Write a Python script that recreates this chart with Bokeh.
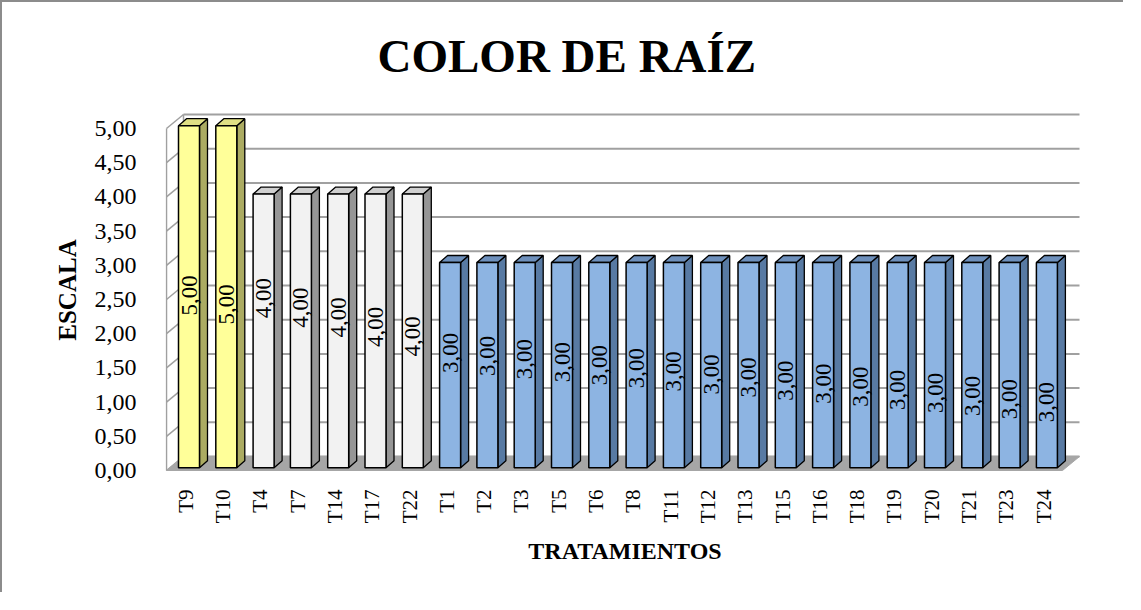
import math
from bokeh.plotting import figure
from bokeh.models import FixedTicker, CustomJSTickFormatter
from bokeh.core.properties import value
from bokeh.embed import file_html
from bokeh.resources import INLINE

# ---------------- data ----------------
categories = ["T9", "T10", "T4", "T7", "T14", "T17", "T22", "T1", "T2", "T3", "T5", "T6",
              "T8", "T11", "T12", "T13", "T15", "T16", "T18", "T19", "T20", "T21", "T23", "T24"]
values = [5.00, 5.00, 4.00, 4.00, 4.00, 4.00, 4.00, 3.00, 3.00, 3.00, 3.00, 3.00,
          3.00, 3.00, 3.00, 3.00, 3.00, 3.00, 3.00, 3.00, 3.00, 3.00, 3.00, 3.00]
y_ticks = [0.0, 0.5, 1.0, 1.5, 2.0, 2.5, 3.0, 3.5, 4.0, 4.5, 5.0]
title_text = "COLOR DE RAÍZ"
y_title = "ESCALA"
x_title = "TRATAMIENTOS"

# colours by value group (front, side, top)
palette = {
    5.0: ("#FFFF99", "#ABAB62", "#E0E085"),
    4.0: ("#F2F2F2", "#969696", "#D0D0D0"),
    3.0: ("#8DB4E2", "#587AA3", "#6E90BC"),
}
# data-label placement inside bars (start offset, drift per bar) by value group
label_drift = {5.0: (0.06, 0.13), 4.0: (0.52, 0.14), 3.0: (0.22, 0.045)}

# ---------------- geometry (pixel scale) ----------------
PX_X = 37.3     # px per category
PX_Y = 68.4     # px per value unit
X0_PX = 193.2   # image x of first category (front plane)
Y0_PX = 478.0   # image y of value 0 (front plane)

def xpx(px):
    return (px - X0_PX) / PX_X

def ypx(py):
    return (Y0_PX - py) / PX_Y

W, H = 1123, 592
frame_l, frame_r, frame_t, frame_b = 173, 1092, 115, 480  # image px
x_start, x_end = xpx(frame_l), xpx(frame_r)
y_start, y_end = ypx(frame_b), ypx(frame_t)

p = figure(width=W, height=H, output_backend="svg", toolbar_location=None,
           x_range=(x_start, x_end), y_range=(y_start, y_end),
           min_border_left=frame_l - 10, min_border_right=W - (frame_r - 10),
           min_border_top=frame_t - 10, min_border_bottom=H - (frame_b - 10))
p.styles = {"border-left": "2px solid #8C8C8C", "border-top": "2px solid #8C8C8C"}
p.outline_line_color = None
p.xgrid.visible = False
p.ygrid.visible = False
p.background_fill_color = "white"
p.border_fill_color = "white"

# title
p.title.text = title_text
p.title.align = "left"
p.title.offset = 212
p.title.standoff = 51
p.title.text_font = "Liberation Serif"
p.title.text_font_style = "bold"
p.title.text_font_size = "47px"
p.title.text_color = "black"

# walls
DXw = 17 / PX_X
DYw = 14 / PX_Y
xl = xpx(174)
xbr = xpx(1087)
grid_col = "#A0A0A0"
p.segment(x0=[xl] * len(y_ticks), y0=y_ticks, x1=[xl + DXw] * len(y_ticks),
          y1=[t + DYw for t in y_ticks], line_color=grid_col, line_width=1.5)
p.segment(x0=[xl + DXw] * len(y_ticks), y0=[t + DYw for t in y_ticks],
          x1=[xbr] * len(y_ticks), y1=[t + DYw for t in y_ticks],
          line_color=grid_col, line_width=2)
p.segment(x0=[xl + DXw], y0=[DYw], x1=[xl + DXw], y1=[y_ticks[-1] + DYw],
          line_color=grid_col, line_width=1.5)
p.segment(x0=[xl], y0=[0], x1=[xl], y1=[y_ticks[-1]], line_color=grid_col, line_width=1.5)

# floor
p.patch([xl, xbr - DXw, xbr, xl + DXw], [0, 0, DYw, DYw],
        fill_color="#A6A6A6", line_color="#A6A6A6", line_width=1)

# bars
bw = 21 / PX_X
ox, oy = 3.3 / PX_X, 2.8 / PX_Y
bdx, bdy = 8 / PX_X, 7 / PX_Y
fl, fr, fb, ft, fcol = [], [], [], [], []
sxs, sys_, scol, txs, tys, tcol = [], [], [], [], [], []
lx, ly, ltxt = [], [], []
rank = 0
for i, v in enumerate(values):
    rank = rank + 1 if i > 0 and values[i - 1] == v else 0
    c = i + ox
    left, right = c - bw / 2, c + bw / 2
    bottom, top = oy, v + oy
    front, side, topc = palette[v]
    fl.append(left); fr.append(right); fb.append(bottom); ft.append(top); fcol.append(front)
    sxs.append([right, right + bdx, right + bdx, right])
    sys_.append([bottom, bottom + bdy, top + bdy, top])
    scol.append(side)
    txs.append([left, right, right + bdx, left + bdx])
    tys.append([top, top, top + bdy, top + bdy])
    tcol.append(topc)
    start, drift = label_drift[v]
    lx.append(c)
    ly.append(v / 2 + start - drift * rank)
    ltxt.append(f"{v:.2f}".replace(".", ","))

p.patches(sxs, sys_, fill_color=scol, line_color="black", line_width=1.3)
p.patches(txs, tys, fill_color=tcol, line_color="black", line_width=1.3)
p.quad(left=fl, right=fr, bottom=fb, top=ft, fill_color=fcol, line_color="black", line_width=1.5)

p.text(x=lx, y=ly, text=ltxt, angle=math.pi / 2, text_align="center", text_baseline="middle",
       text_font=value("Liberation Serif"), text_font_size="23px", text_color="black")

# axes
p.yaxis.ticker = FixedTicker(ticks=y_ticks)
p.yaxis.formatter = CustomJSTickFormatter(code="return tick.toFixed(2).replace('.', ',');")
p.yaxis.axis_line_color = None
p.yaxis.major_tick_line_color = None
p.yaxis.minor_tick_line_color = None
p.yaxis.major_label_standoff = 23
p.yaxis.major_label_text_font = "Liberation Serif"
p.yaxis.major_label_text_font_size = "24px"
p.yaxis.major_label_text_color = "black"
p.yaxis.axis_label = y_title
p.yaxis.axis_label_standoff = 11
p.yaxis.axis_label_text_font = "Liberation Serif"
p.yaxis.axis_label_text_font_style = "bold"
p.yaxis.axis_label_text_font_size = "25px"
p.yaxis.axis_label_text_color = "black"

p.xaxis.ticker = FixedTicker(ticks=list(range(len(categories))))
p.xaxis.formatter = CustomJSTickFormatter(args=dict(names=categories),
                                          code="const i = Math.round(tick); return names[i] || '';")
p.xaxis.axis_line_color = None
p.xaxis.major_tick_line_color = None
p.xaxis.minor_tick_line_color = None
p.xaxis.major_label_orientation = math.pi / 2
p.xaxis.major_label_standoff = 11
p.xaxis.major_label_text_font = "Liberation Serif"
p.xaxis.major_label_text_font_size = "21px"
p.xaxis.major_label_text_color = "black"
p.xaxis.axis_label = x_title
p.xaxis.axis_label_standoff = 12
p.xaxis.axis_label_text_font = "Liberation Serif"
p.xaxis.axis_label_text_font_style = "bold"
p.xaxis.axis_label_text_font_size = "24px"
p.xaxis.axis_label_text_color = "black"

open("out.html", "w").write(file_html(p, INLINE))
